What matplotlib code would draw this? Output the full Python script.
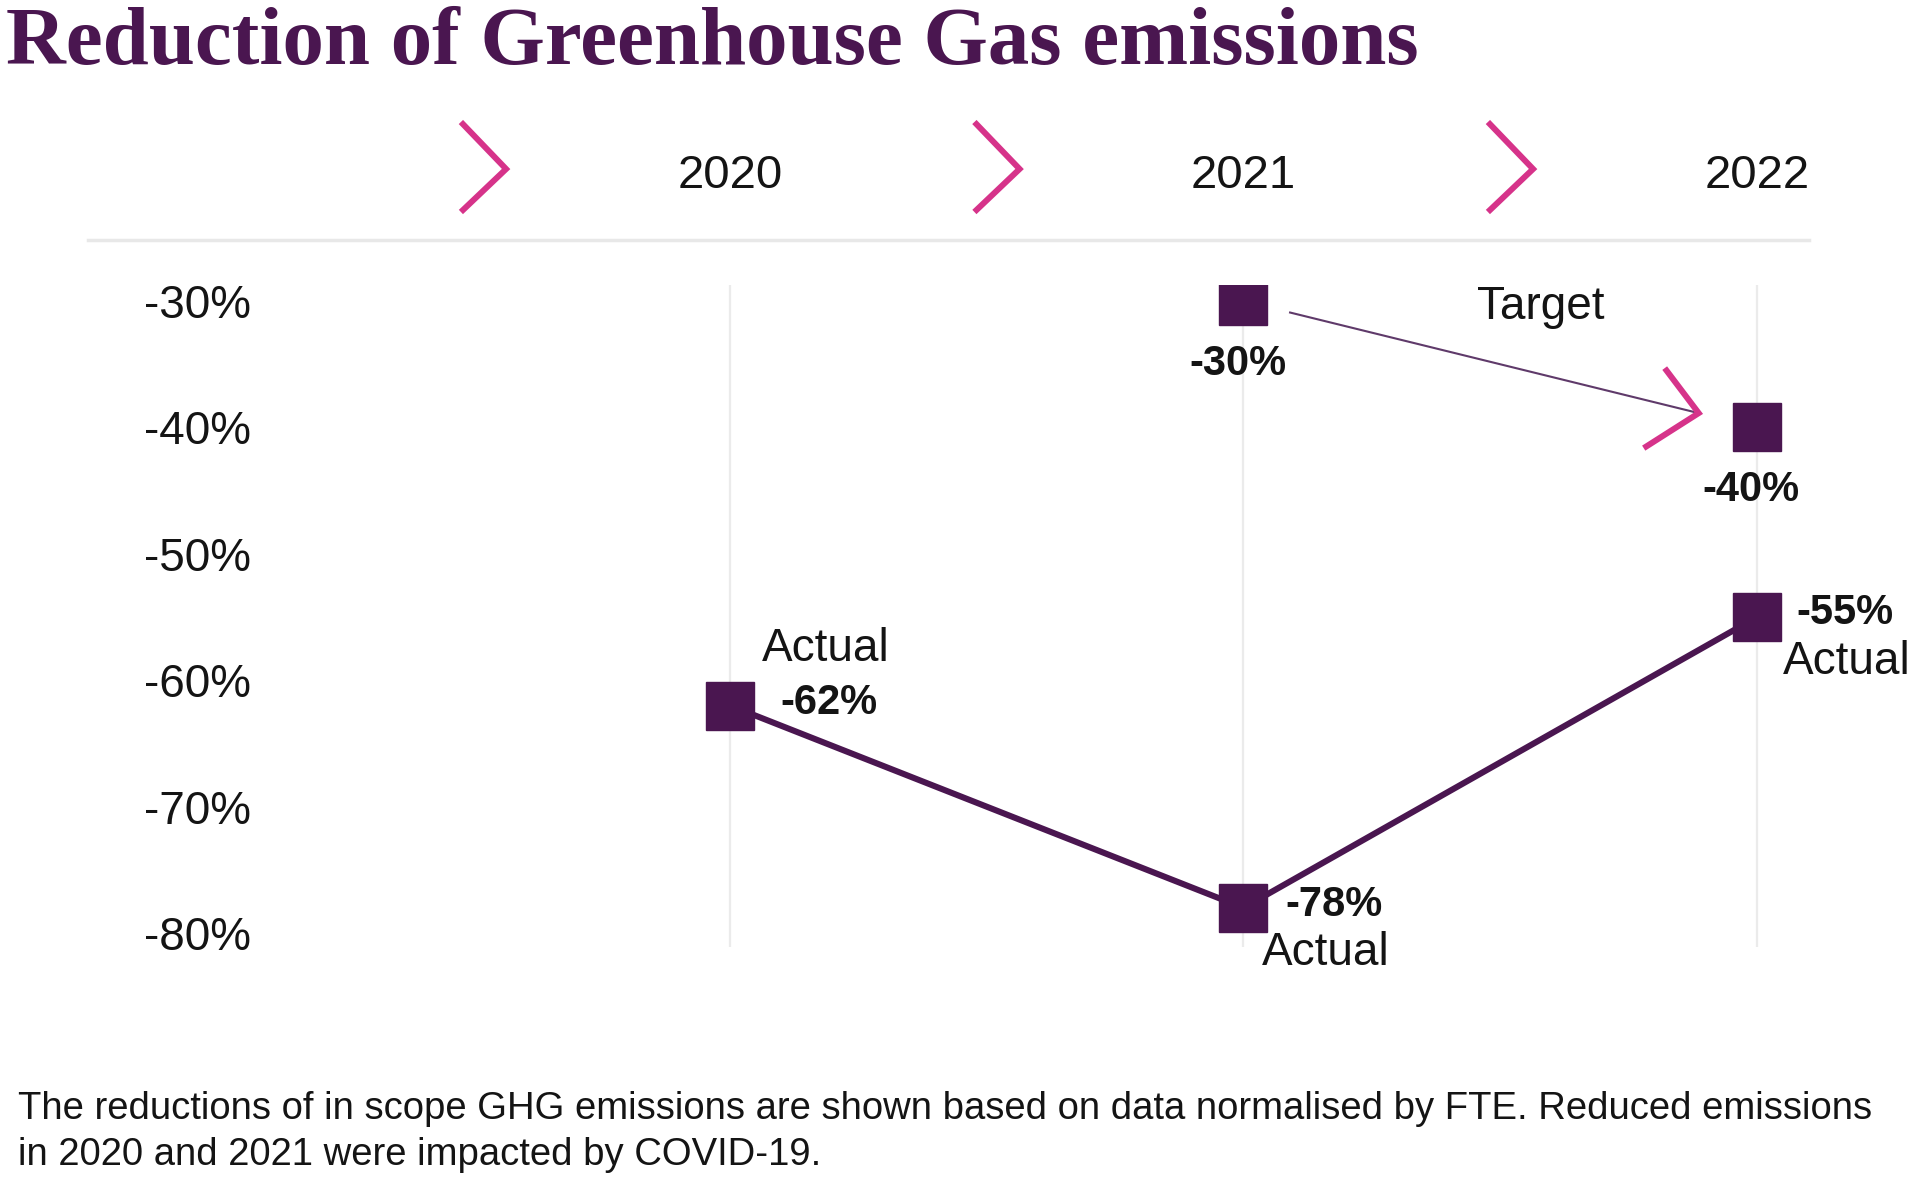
import matplotlib
matplotlib.use('Agg')
import matplotlib.pyplot as plt
from matplotlib.lines import Line2D
from matplotlib.transforms import IdentityTransform, blended_transform_factory
import numpy as np

# ---------------- data ----------------
years = ['2020', '2021', '2022']
actual = [-62, -78, -55]
actual_labels = ['-62%', '-78%', '-55%']
target_idx = [1, 2]
target = [-30, -40]
target_labels = ['-30%', '-40%']
yticks = [-30, -40, -50, -60, -70, -80]
ytick_labels = ['-30%', '-40%', '-50%', '-60%', '-70%', '-80%']
title = 'Reduction of Greenhouse Gas emissions'
footnote = ['The reductions of in scope GHG emissions are shown based on data normalised by FTE. Reduced emissions',
            'in 2020 and 2021 were impacted by COVID-19.']

PURPLE = '#4a1650'
SHAFT = '#5f3a6a'
PINK = '#d6338a'
GRID = '#ebebeb'
TXT = '#141414'
SANS = ['Liberation Sans', 'DejaVu Sans']
SERIF = ['Liberation Serif', 'DejaVu Serif']

W, H = 1920, 1181
fig = plt.figure(figsize=(W / 100, H / 100), dpi=100)
fig.patch.set_facecolor('white')


def fy(px_from_top):
    return 1 - px_from_top / H


ax = fig.add_axes([280 / W, fy(947), 1 - 280 / W, (947 - 285) / H])
xpos = np.arange(len(years))
ax.set_xlim(-0.8763, 2.3175)
ax.set_ylim(-81.1, -28.73)
for s in ax.spines.values():
    s.set_visible(False)
ax.set_xticks([])
ax.set_yticks(yticks, ytick_labels)
ax.tick_params(axis='y', length=0, pad=21, labelsize=33, labelcolor=TXT)
for lab in ax.get_yticklabels():
    lab.set_family(SANS)

# vertical gridlines
for x in xpos:
    ax.axvline(x, color=GRID, lw=1.6, zorder=0)

# actual line
ax.plot(xpos, actual, color=PURPLE, lw=4.4, marker='s', markersize=35,
        markerfacecolor=PURPLE, markeredgecolor=PURPLE, zorder=3, solid_capstyle='butt')
# target markers
ax.plot([xpos[i] for i in target_idx], target, ls='none', marker='s', markersize=35,
        color=PURPLE, zorder=3)

# labels
bold = dict(fontsize=30, fontweight='bold', color=TXT, family=SANS)
reg = dict(fontsize=33, color=TXT, family=SANS)
ax.annotate(actual_labels[0], (xpos[0], actual[0]), xytext=(50, 3), textcoords='offset pixels',
            ha='left', va='center', **bold)
ax.annotate('Actual', (xpos[0], actual[0]), xytext=(32, 57), textcoords='offset pixels',
            ha='left', va='center', **reg)
ax.annotate(actual_labels[1], (xpos[1], actual[1]), xytext=(42, 3), textcoords='offset pixels',
            ha='left', va='center', **bold)
ax.annotate('Actual', (xpos[1], actual[1]), xytext=(18, -45), textcoords='offset pixels',
            ha='left', va='center', **reg)
ax.annotate(actual_labels[2], (xpos[2], actual[2]), xytext=(39, 4), textcoords='offset pixels',
            ha='left', va='center', **bold)
ax.annotate('Actual', (xpos[2], actual[2]), xytext=(26, -45), textcoords='offset pixels',
            ha='left', va='center', **reg)
for i, v, lab in zip(target_idx, target, target_labels):
    ax.annotate(lab, (xpos[i], v), xytext=(-6, -63), textcoords='offset pixels',
                ha='center', va='center', **bold)
ax.annotate('Target', (xpos[target_idx[0]], target[0]), xytext=(297, -6), textcoords='offset pixels',
            ha='center', va='center', **reg)

# target arrow (shaft + pink chevron head)
p1 = ax.transData.transform((xpos[target_idx[0]], target[0]))
p2 = ax.transData.transform((xpos[target_idx[1]], target[1]))
u = (p2 - p1) / np.hypot(*(p2 - p1))
start = p1 + 48 * u
tip = p2 - 60 * u
fig.add_artist(Line2D([start[0], tip[0]], [start[1], tip[1]], transform=IdentityTransform(),
                      color=SHAFT, lw=1.5, zorder=4))
fig.add_artist(Line2D([tip[0] - 34, tip[0], tip[0] - 55], [tip[1] + 45, tip[1], tip[1] - 35],
                      transform=IdentityTransform(), color=PINK, lw=4.3, zorder=5,
                      solid_joinstyle='miter', solid_capstyle='butt'))

# header: chevrons + year labels
bt = blended_transform_factory(ax.transData, fig.transFigure)
for x, yr in zip(xpos, years):
    tx = x - 0.436
    fig.add_artist(Line2D([tx - 0.088, tx, tx - 0.088], [fy(122), fy(169), fy(212)], transform=bt,
                          color=PINK, lw=4.3, solid_joinstyle='miter', solid_capstyle='butt'))
    fig.text(x, fy(188), yr, transform=bt, ha='center', va='baseline', fontsize=34,
             color=TXT, family=SANS)
fig.add_artist(Line2D([88 / W, 1809 / W], [fy(240), fy(240)], transform=fig.transFigure,
                      color='#e8e8e8', lw=2.5))

# title and footnote
t = fig.text(6 / W, fy(64), title, ha='left', va='baseline', fontsize=56, fontweight='bold',
             color=PURPLE, family=SERIF)
f1 = fig.text(18 / W, fy(1119), footnote[0], ha='left', va='baseline', fontsize=27, color=TXT, family=SANS)
f2 = fig.text(18 / W, fy(1165), footnote[1], ha='left', va='baseline', fontsize=27, color=TXT, family=SANS)

# fit widths
fig.canvas.draw()
r = fig.canvas.get_renderer()
for txt, target_w in [(t, 1412), (f1, 1853)]:
    w = txt.get_window_extent(r).width
    txt.set_fontsize(txt.get_fontsize() * target_w / w)
f2.set_fontsize(f1.get_fontsize())

fig.savefig('out.png', dpi=100, facecolor='white')
